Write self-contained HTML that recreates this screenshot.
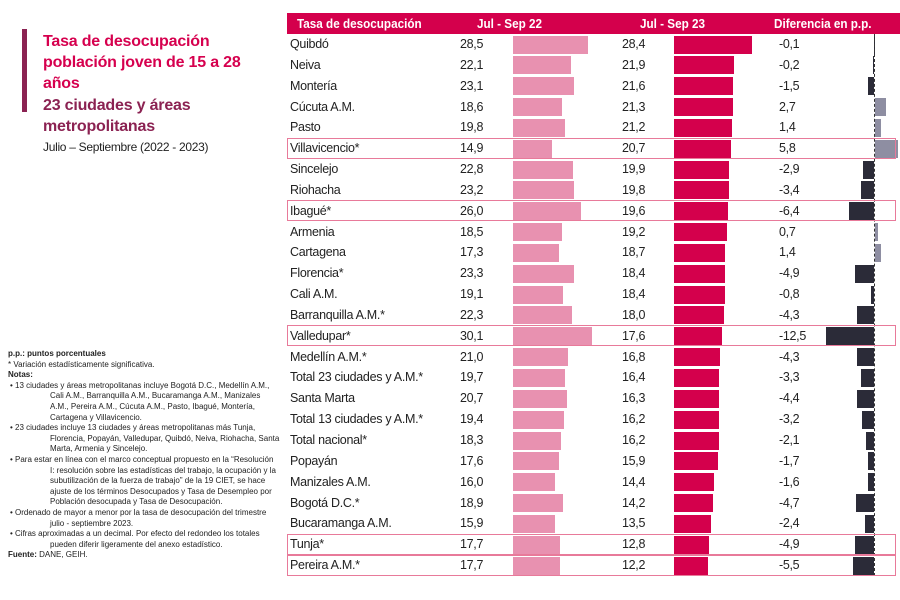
<!DOCTYPE html>
<html><head><meta charset="utf-8">
<style>
body{margin:0;width:900px;height:600px;background:#fff;position:relative;overflow:hidden;font-family:"Liberation Sans",sans-serif;}
.t{position:absolute;left:43px;font-weight:bold;font-size:16px;color:#d6004e;white-space:nowrap;letter-spacing:-0.2px}
.m{color:#8b2252}
.hdr{position:absolute;left:287px;top:13px;width:613px;height:21px;background:#d4004c;color:#fff;font-weight:bold;font-size:13px;}
.hdr span{position:absolute;top:3px;white-space:nowrap;transform-origin:0 0;transform:scaleX(0.9)}
.r{position:absolute;left:287px;width:610px;height:20.84px;font-size:12.5px;color:#222;letter-spacing:-0.3px}
.r span{position:absolute;top:3px;white-space:nowrap}
.n{left:3px}.v1{left:173px}.v2{left:335px}.d{left:492px}
.a,.b,.c,.p{position:absolute;top:1.5px;height:18px}
.a{left:226px;background:#e891b0}
.b{left:387px;background:#d4004c}
.c{background:#2b2b38}
.p{left:588px;background:#8e8ea2}
.h{position:absolute;left:287px;width:607px;height:19px;border:1.5px solid #e87a9a;}
.notes{position:absolute;left:8px;top:349px;font-size:8px;color:#222;line-height:10.6px;width:272px}
.notes .i{padding-left:42px;text-indent:-40px}
</style></head><body>
<div style="position:absolute;left:22px;top:29px;width:5px;height:83px;background:#8b2252"></div>
<div class="t" style="top:33px">Tasa de desocupación</div>
<div class="t" style="top:54px">población joven de 15 a 28</div>
<div class="t" style="top:75px">años</div>
<div class="t m" style="top:97px">23 ciudades y áreas</div>
<div class="t m" style="top:118px">metropolitanas</div>
<div style="position:absolute;left:43px;top:140px;font-size:12px;color:#222;white-space:nowrap;letter-spacing:-0.3px">Julio – Septiembre (2022 - 2023)</div>

<div class="notes">
<b>p.p.: puntos porcentuales</b><br>
* Variación estadísticamente significativa.<br>
<b>Notas:</b>
<div class="i">• 13 ciudades y áreas metropolitanas incluye Bogotá D.C., Medellín A.M., Cali A.M., Barranquilla A.M., Bucaramanga A.M., Manizales A.M., Pereira A.M., Cúcuta A.M., Pasto, Ibagué, Montería, Cartagena y Villavicencio.</div>
<div class="i">• 23 ciudades incluye 13 ciudades y áreas metropolitanas más Tunja, Florencia, Popayán, Valledupar, Quibdó, Neiva, Riohacha, Santa Marta, Armenia y Sincelejo.</div>
<div class="i">• Para estar en línea con el marco conceptual propuesto en la “Resolución I: resolución sobre las estadísticas del trabajo, la ocupación y la subutilización de la fuerza de trabajo” de la 19 CIET, se hace ajuste de los términos Desocupados y Tasa de Desempleo por Población desocupada y Tasa de Desocupación.</div>
<div class="i">• Ordenado de mayor a menor por la tasa de desocupación del trimestre julio - septiembre 2023.</div>
<div class="i">• Cifras aproximadas a un decimal. Por efecto del redondeo los totales pueden diferir ligeramente del anexo estadístico.</div>
<b>Fuente:</b> DANE, GEIH.
</div>

<div class="hdr"><span style="left:10px">Tasa de desocupación</span><span style="left:190px">Jul - Sep 22</span><span style="left:353px">Jul - Sep 23</span><span style="left:487px">Diferencia en p.p.</span></div>

<div class="r" style="top:34px"><span class="n">Quibdó</span><span class="v1">28,5</span><div class="a" style="width:75px"></div><span class="v2">28,4</span><div class="b" style="width:78px"></div><span class="d">-0,1</span><div class="c" style="left:586.6px;width:0.4px"></div></div>
<div class="r" style="top:54.8px"><span class="n">Neiva</span><span class="v1">22,1</span><div class="a" style="width:58px"></div><span class="v2">21,9</span><div class="b" style="width:60px"></div><span class="d">-0,2</span><div class="c" style="left:586.2px;width:0.8px"></div></div>
<div class="r" style="top:75.7px"><span class="n">Montería</span><span class="v1">23,1</span><div class="a" style="width:61px"></div><span class="v2">21,6</span><div class="b" style="width:59px"></div><span class="d">-1,5</span><div class="c" style="left:581.2px;width:5.8px"></div></div>
<div class="r" style="top:96.5px"><span class="n">Cúcuta A.M.</span><span class="v1">18,6</span><div class="a" style="width:49px"></div><span class="v2">21,3</span><div class="b" style="width:58.6px"></div><span class="d">2,7</span><div class="p" style="width:10.8px"></div></div>
<div class="r" style="top:117.4px"><span class="n">Pasto</span><span class="v1">19,8</span><div class="a" style="width:52px"></div><span class="v2">21,2</span><div class="b" style="width:58.3px"></div><span class="d">1,4</span><div class="p" style="width:5.6px"></div></div>
<div class="r" style="top:138.2px"><span class="n">Villavicencio*</span><span class="v1">14,9</span><div class="a" style="width:39px"></div><span class="v2">20,7</span><div class="b" style="width:57px"></div><span class="d">5,8</span><div class="p" style="width:23px"></div></div>
<div class="r" style="top:159px"><span class="n">Sincelejo</span><span class="v1">22,8</span><div class="a" style="width:60px"></div><span class="v2">19,9</span><div class="b" style="width:54.7px"></div><span class="d">-2,9</span><div class="c" style="left:575.8px;width:11.2px"></div></div>
<div class="r" style="top:179.9px"><span class="n">Riohacha</span><span class="v1">23,2</span><div class="a" style="width:61px"></div><span class="v2">19,8</span><div class="b" style="width:54.5px"></div><span class="d">-3,4</span><div class="c" style="left:573.9px;width:13.1px"></div></div>
<div class="r" style="top:200.7px"><span class="n">Ibagué*</span><span class="v1">26,0</span><div class="a" style="width:68.4px"></div><span class="v2">19,6</span><div class="b" style="width:53.9px"></div><span class="d">-6,4</span><div class="c" style="left:562.4px;width:24.6px"></div></div>
<div class="r" style="top:221.6px"><span class="n">Armenia</span><span class="v1">18,5</span><div class="a" style="width:48.7px"></div><span class="v2">19,2</span><div class="b" style="width:52.8px"></div><span class="d">0,7</span><div class="p" style="width:2.8px"></div></div>
<div class="r" style="top:242.4px"><span class="n">Cartagena</span><span class="v1">17,3</span><div class="a" style="width:45.5px"></div><span class="v2">18,7</span><div class="b" style="width:51.4px"></div><span class="d">1,4</span><div class="p" style="width:5.6px"></div></div>
<div class="r" style="top:263.2px"><span class="n">Florencia*</span><span class="v1">23,3</span><div class="a" style="width:61.3px"></div><span class="v2">18,4</span><div class="b" style="width:50.6px"></div><span class="d">-4,9</span><div class="c" style="left:568.1px;width:18.9px"></div></div>
<div class="r" style="top:284.1px"><span class="n">Cali A.M.</span><span class="v1">19,1</span><div class="a" style="width:50.2px"></div><span class="v2">18,4</span><div class="b" style="width:50.6px"></div><span class="d">-0,8</span><div class="c" style="left:583.9px;width:3.1px"></div></div>
<div class="r" style="top:304.9px"><span class="n">Barranquilla A.M.*</span><span class="v1">22,3</span><div class="a" style="width:58.6px"></div><span class="v2">18,0</span><div class="b" style="width:49.5px"></div><span class="d">-4,3</span><div class="c" style="left:570.4px;width:16.6px"></div></div>
<div class="r" style="top:325.8px"><span class="n">Valledupar*</span><span class="v1">30,1</span><div class="a" style="width:79.2px"></div><span class="v2">17,6</span><div class="b" style="width:48.4px"></div><span class="d">-12,5</span><div class="c" style="left:538.9px;width:48.1px"></div></div>
<div class="r" style="top:346.6px"><span class="n">Medellín A.M.*</span><span class="v1">21,0</span><div class="a" style="width:55.2px"></div><span class="v2">16,8</span><div class="b" style="width:46.2px"></div><span class="d">-4,3</span><div class="c" style="left:570.4px;width:16.6px"></div></div>
<div class="r" style="top:367.4px"><span class="n">Total 23 ciudades y A.M.*</span><span class="v1">19,7</span><div class="a" style="width:51.8px"></div><span class="v2">16,4</span><div class="b" style="width:45.1px"></div><span class="d">-3,3</span><div class="c" style="left:574.3px;width:12.7px"></div></div>
<div class="r" style="top:388.3px"><span class="n">Santa Marta</span><span class="v1">20,7</span><div class="a" style="width:54.4px"></div><span class="v2">16,3</span><div class="b" style="width:44.8px"></div><span class="d">-4,4</span><div class="c" style="left:570.1px;width:16.9px"></div></div>
<div class="r" style="top:409.1px"><span class="n">Total 13 ciudades y A.M.*</span><span class="v1">19,4</span><div class="a" style="width:51px"></div><span class="v2">16,2</span><div class="b" style="width:44.6px"></div><span class="d">-3,2</span><div class="c" style="left:574.7px;width:12.3px"></div></div>
<div class="r" style="top:430px"><span class="n">Total nacional*</span><span class="v1">18,3</span><div class="a" style="width:48.1px"></div><span class="v2">16,2</span><div class="b" style="width:44.6px"></div><span class="d">-2,1</span><div class="c" style="left:578.9px;width:8.1px"></div></div>
<div class="r" style="top:450.8px"><span class="n">Popayán</span><span class="v1">17,6</span><div class="a" style="width:46.3px"></div><span class="v2">15,9</span><div class="b" style="width:43.7px"></div><span class="d">-1,7</span><div class="c" style="left:580.5px;width:6.5px"></div></div>
<div class="r" style="top:471.6px"><span class="n">Manizales A.M.</span><span class="v1">16,0</span><div class="a" style="width:42.1px"></div><span class="v2">14,4</span><div class="b" style="width:39.6px"></div><span class="d">-1,6</span><div class="c" style="left:580.8px;width:6.2px"></div></div>
<div class="r" style="top:492.5px"><span class="n">Bogotá D.C.*</span><span class="v1">18,9</span><div class="a" style="width:49.7px"></div><span class="v2">14,2</span><div class="b" style="width:39.1px"></div><span class="d">-4,7</span><div class="c" style="left:568.9px;width:18.1px"></div></div>
<div class="r" style="top:513.3px"><span class="n">Bucaramanga A.M.</span><span class="v1">15,9</span><div class="a" style="width:41.8px"></div><span class="v2">13,5</span><div class="b" style="width:37.1px"></div><span class="d">-2,4</span><div class="c" style="left:577.8px;width:9.2px"></div></div>
<div class="r" style="top:534.2px"><span class="n">Tunja*</span><span class="v1">17,7</span><div class="a" style="width:46.6px"></div><span class="v2">12,8</span><div class="b" style="width:35.2px"></div><span class="d">-4,9</span><div class="c" style="left:568.1px;width:18.9px"></div></div>
<div class="r" style="top:555px"><span class="n">Pereira A.M.*</span><span class="v1">17,7</span><div class="a" style="width:46.6px"></div><span class="v2">12,2</span><div class="b" style="width:33.6px"></div><span class="d">-5,5</span><div class="c" style="left:565.8px;width:21.2px"></div></div>

<div style="position:absolute;left:874px;top:34px;height:542px;border-left:1px dashed #333"></div>

<div class="h" style="top:137.5px"></div>
<div class="h" style="top:200px"></div>
<div class="h" style="top:325px"></div>
<div class="h" style="top:533.5px"></div>
<div class="h" style="top:554.5px"></div>
</body></html>
